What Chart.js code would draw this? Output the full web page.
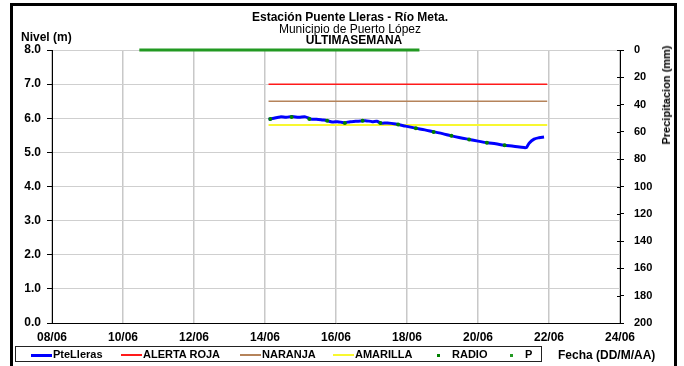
<!DOCTYPE html>
<html>
<head>
<meta charset="utf-8">
<script src="https://cdn.jsdelivr.net/npm/chart.js@4.4.0/dist/chart.umd.min.js"></script>
<style>
    body {margin: 0; width: 684px; height: 366px; overflow: hidden; background: #fff; font-family: "Liberation Sans", Arial, sans-serif;}
    #app {position: relative; width: 684px; height: 366px;}
    #frame {position: absolute; left: 10px; top: 3px; width: 667px; height: 380px; border: 3px solid #000; box-sizing: border-box;}
    canvas {position: absolute; left: 0; top: 0;}
    .t {position: absolute; white-space: nowrap; color: #000; line-height: 12px;}
    .b {font-weight: bold;}
    #legend {position: absolute; left: 15px; top: 346px; width: 527px; height: 16px; border: 1px solid #222; box-sizing: border-box; font-size: 11px; font-weight: bold;}
    .item {position: absolute; top: 1px; height: 12px; line-height: 12px; white-space: nowrap;}
    .mk {display: inline-block; vertical-align: middle;}
</style>
</head>
<body>
<div id="app">
    <div id="frame"></div>
    <canvas id="nivel" width="684" height="366"></canvas>
    <div class="t b" style="left:0;width:700px;text-align:center;top:11px;font-size:12px">Estación Puente Lleras - Río Meta.</div>
    <div class="t" style="left:0;width:700px;text-align:center;top:23px;font-size:12px">Municipio de Puerto López</div>
    <div class="t b" style="left:0;width:708px;text-align:center;top:34px;font-size:12px">ULTIMASEMANA</div>
    <div class="t b" style="left:21px;top:31px;font-size:12px">Nivel (m)</div>
    <div class="t b" style="left:666px;top:95px;font-size:11px;transform:translate(-50%,-50%) rotate(-90deg)">Precipitacion (mm)</div>
    <div class="t b" style="left:558px;top:349px;font-size:12px">Fecha (DD/M/AA)</div>
    <div id="legend"></div>
</div>
<script>
// etiquetas del eje de fechas (dias de junio)
var xTickLabels = ['08/06', '10/06', '12/06', '14/06', '16/06', '18/06', '20/06', '22/06', '24/06']

// nivel PteLleras (dia del mes, metros)
var nivelDias = [14.10, 14.25, 14.43, 14.60, 14.76, 14.95, 15.14, 15.28, 15.45, 15.61, 15.75, 15.89, 16.05, 16.22, 16.40,
    16.55, 16.70, 16.83, 17.02, 17.15, 17.26, 17.45, 17.68, 17.96, 18.24, 18.50, 18.76, 19.00, 19.23, 19.50, 19.75,
    20.00, 20.27, 20.50, 20.73, 21.00, 21.30, 21.37, 21.44, 21.58, 21.72, 21.86]
var nivelValores = [5.97, 6.00, 6.04, 6.03, 6.05, 6.03, 6.04, 5.98, 5.97, 5.95, 5.93, 5.89, 5.90, 5.87, 5.90,
    5.91, 5.92, 5.93, 5.90, 5.91, 5.86, 5.86, 5.83, 5.77, 5.71, 5.66, 5.60, 5.55, 5.49, 5.43, 5.38,
    5.33, 5.28, 5.25, 5.21, 5.18, 5.14, 5.15, 5.27, 5.39, 5.43, 5.45]

// lecturas por radio
var radioDias = [14.15, 14.75, 15.25, 15.75, 16.25, 16.75, 17.25, 17.75, 18.25, 18.75, 19.25, 19.75, 20.25, 20.75]
var radioValores = [5.98, 6.04, 5.98, 5.93, 5.86, 5.93, 5.86, 5.82, 5.71, 5.60, 5.49, 5.38, 5.28, 5.21]

// umbrales de alerta
var alertaDias = [14.1, 21.95]
var alertaRoja = [7.0, 7.0]
var alertaNaranja = [6.5, 6.5]
var alertaAmarilla = [5.8, 5.8]

// precipitacion (mm)
var pDias = [10.46, 18.35]
var pValores = [0, 0]

var pts = (xs, ys) => xs.map((x, i) => ({x: x, y: ys[i]}))

var tickFont = {family: 'Liberation Sans', size: 12, weight: 'bold'}

// ticks del eje derecho cruzan la linea
var crossTicks = {
    id: 'crossTicks',
    afterDraw: (chart) => {
        var s = chart.scales.y2
        var ctx = chart.ctx
        ctx.save()
        ctx.strokeStyle = '#000'
        ctx.lineWidth = 1
        s.ticks.forEach((t, i) => {
            var y = Math.round(s.getPixelForTick(i)) + 0.5
            ctx.beginPath()
            ctx.moveTo(s.left - 3, y)
            ctx.lineTo(s.left, y)
            ctx.stroke()
        })
        ctx.restore()
    }
}

var chart = new Chart($ = document.getElementById('nivel'), {
    type: 'line',
    data: {
        datasets: [{
            label: 'PteLleras',
            data: pts(nivelDias, nivelValores),
            borderColor: '#0000ff',
            backgroundColor: '#0000ff',
            borderWidth: 3,
            pointRadius: 0,
            tension: 0.3,
            yAxisID: 'y',
            order: 2,
            mk: 'line'
        }, {
            label: 'ALERTA ROJA',
            data: pts(alertaDias, alertaRoja),
            borderColor: '#ff1a1a',
            backgroundColor: '#ff1a1a',
            borderWidth: 1.5,
            pointRadius: 0,
            yAxisID: 'y',
            order: 3,
            mk: 'line'
        }, {
            label: 'NARANJA',
            data: pts(alertaDias, alertaNaranja),
            borderColor: '#b5835a',
            backgroundColor: '#b5835a',
            borderWidth: 1.5,
            pointRadius: 0,
            yAxisID: 'y',
            order: 3,
            mk: 'line'
        }, {
            label: 'AMARILLA',
            data: pts(alertaDias, alertaAmarilla),
            borderColor: '#f8f830',
            backgroundColor: '#f8f830',
            borderWidth: 2,
            pointRadius: 0,
            yAxisID: 'y',
            order: 4,
            mk: 'line'
        }, {
            label: 'RADIO',
            data: pts(radioDias, radioValores),
            showLine: false,
            borderColor: '#008000',
            backgroundColor: '#008000',
            pointRadius: 2,
            pointBorderWidth: 0,
            yAxisID: 'y',
            order: 1,
            mk: 'dot'
        }, {
            label: 'P',
            data: pts(pDias, pValores),
            borderColor: '#229922',
            backgroundColor: '#229922',
            borderWidth: 3,
            pointRadius: 0,
            yAxisID: 'y2',
            clip: false,
            order: 1,
            mk: 'dot'
        }]
    },
    options: {
        responsive: false,
        animation: false,
        devicePixelRatio: 1,
        layout: {padding: {top: 50, left: 0, right: 0, bottom: 0}},
        plugins: {
            legend: {display: false},
            tooltip: {enabled: false}
        },
        scales: {
            x: {
                type: 'linear',
                min: 8,
                max: 24,
                afterFit: (s) => { s.height = 43 },
                afterBuildTicks: (s) => { s.ticks = xTickLabels.map((l, i) => ({value: 8 + i * 2})) },
                ticks: {
                    color: '#000',
                    font: tickFont,
                    padding: 7,
                    maxRotation: 0,
                    callback: (v) => xTickLabels[(v - 8) / 2]
                },
                grid: {color: '#c8c8c8', lineWidth: 1.5, drawTicks: false},
                border: {color: '#000', width: 1}
            },
            y: {
                position: 'left',
                min: 0,
                max: 8,
                afterFit: (s) => { s.width = 52 },
                ticks: {
                    stepSize: 1,
                    color: '#000',
                    font: tickFont,
                    padding: 6,
                    callback: (v) => v.toFixed(1)
                },
                grid: {color: '#cfcfcf', lineWidth: 1, tickLength: 5, tickColor: '#000'},
                border: {color: '#000', width: 1}
            },
            y2: {
                position: 'right',
                min: 0,
                max: 200,
                reverse: true,
                afterFit: (s) => { s.width = 64 },
                ticks: {
                    stepSize: 20,
                    color: '#000',
                    font: {family: 'Liberation Sans', size: 11, weight: 'bold'},
                    padding: 10
                },
                grid: {drawOnChartArea: false, tickLength: 4, tickColor: '#000'},
                border: {color: '#000', width: 1}
            }
        }
    },
    plugins: [crossTicks]
})

// leyenda con recuadro, armada desde los datasets
var legendLeft = [31, 121, 240, 333, 435, 508]
var legendEl = document.getElementById('legend')
chart.data.datasets.forEach((ds, i) => {
    var item = document.createElement('div')
    item.className = 'item'
    item.style.left = (legendLeft[i] - 16) + 'px'
    var mk = document.createElement('span')
    mk.className = 'mk'
    if (ds.mk === 'line') {
        mk.style.width = '21px'
        mk.style.height = Math.max(1, Math.round(ds.borderWidth)) + 'px'
        mk.style.background = ds.borderColor
        mk.style.marginRight = '1px'
    } else {
        mk.style.width = '3px'
        mk.style.height = '3px'
        mk.style.background = ds.backgroundColor
        mk.style.margin = '0 12px 0 2px'
    }
    item.appendChild(mk)
    item.appendChild(document.createTextNode(ds.label))
    legendEl.appendChild(item)
})
</script>
</body>
</html>
